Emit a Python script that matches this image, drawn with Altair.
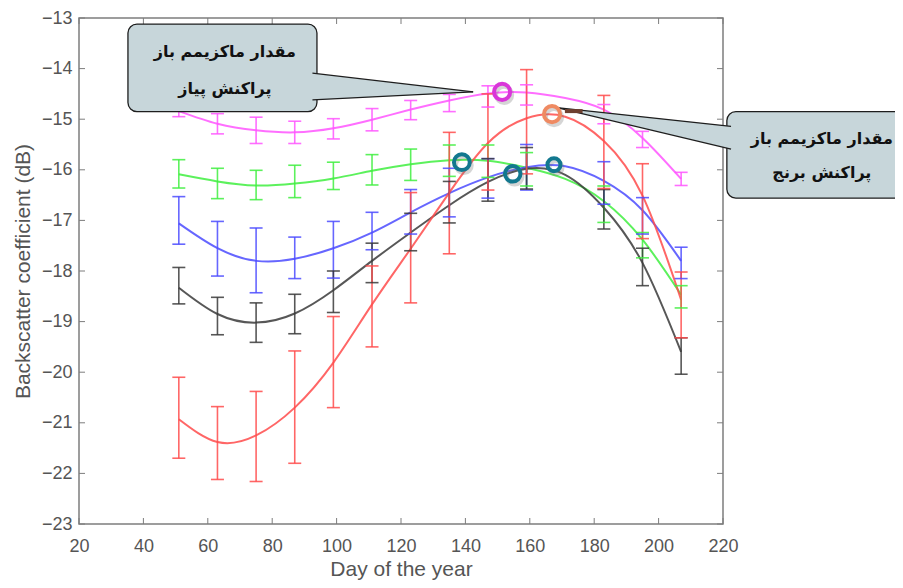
import altair as alt
import pandas as pd

# ---------------- data ----------------
days = [51, 63, 75, 87, 99, 111, 123, 135, 147, 159, 183, 195, 207]
fit_days = [51, 63, 75, 87, 99, 111, 123, 135, 147, 159, 171, 183, 195, 207]

series_names = ["magenta", "green", "blue", "black", "red"]
series_colors = ["#ff55ff", "#3fee3f", "#4b4bff", "#3a3a3a", "#ff4b4b"]

magenta_mean = [-14.78, -15.09, -15.22, -15.26, -15.19, -15.01, -14.82, -14.68, -14.55, -14.52, -14.90, -15.40, -16.18]
magenta_err = [0.17, 0.20, 0.26, 0.22, 0.20, 0.22, 0.19, 0.17, 0.21, 0.20, 0.19, 0.16, 0.13]
green_mean = [-16.08, -16.27, -16.30, -16.23, -16.12, -16.00, -15.90, -15.82, -15.83, -15.99, -16.68, -17.49, -18.51]
green_err = [0.28, 0.30, 0.29, 0.32, 0.27, 0.30, 0.31, 0.31, 0.32, 0.33, 0.36, 0.25, 0.22]
blue_mean = [-17.00, -17.56, -17.79, -17.74, -17.58, -17.21, -16.83, -16.45, -16.17, -15.95, -16.26, -16.91, -17.84]
blue_err = [0.47, 0.54, 0.64, 0.41, 0.56, 0.37, 0.44, 0.48, 0.39, 0.45, 0.42, 0.36, 0.31]
black_mean = [-18.29, -18.89, -19.02, -18.85, -18.41, -17.84, -17.23, -16.64, -16.20, -15.97, -16.78, -17.92, -19.68]
black_err = [0.36, 0.37, 0.39, 0.39, 0.41, 0.39, 0.37, 0.41, 0.42, 0.41, 0.39, 0.37, 0.36]
red_mean = [-20.90, -21.40, -21.27, -20.69, -19.80, -18.70, -17.54, -16.46, -15.45, -15.05, -15.45, -16.62, -18.67]
red_err = [0.80, 0.72, 0.89, 1.11, 0.90, 0.80, 1.09, 1.20, 0.95, 1.03, 0.92, 0.74, 0.65]

magenta_fit = [-14.84, -15.09, -15.22, -15.26, -15.18, -15.01, -14.81, -14.63, -14.49, -14.47, -14.58, -14.81, -15.37, -16.18]
green_fit = [-16.09, -16.23, -16.31, -16.27, -16.17, -16.02, -15.89, -15.81, -15.82, -15.96, -16.18, -16.62, -17.38, -18.47]
blue_fit = [-17.06, -17.55, -17.80, -17.76, -17.55, -17.24, -16.84, -16.46, -16.15, -15.95, -15.93, -16.22, -16.80, -17.80]
black_fit = [-18.33, -18.85, -19.02, -18.84, -18.38, -17.80, -17.24, -16.70, -16.24, -15.98, -16.10, -16.75, -17.84, -19.60]
red_fit = [-20.93, -21.38, -21.25, -20.70, -19.81, -18.66, -17.56, -16.45, -15.47, -14.98, -14.95, -15.43, -16.51, -18.57]

x_ticks = [20, 40, 60, 80, 100, 120, 140, 160, 180, 200, 220]
y_ticks = [-23, -22, -21, -20, -19, -18, -17, -16, -15, -14, -13]

# annotation markers (ring circles at maxima)
ring_day = [151.4, 166.9, 138.9, 154.7, 167.5]
ring_val = [-14.46, -14.90, -15.85, -16.08, -15.90]
ring_color = ["#d936d9", "#ef8a62", "#12788f", "#12788f", "#12788f"]
ring_size = [260, 260, 250, 240, 170]

# callout boxes
box_x = [35.2, 221.2]
box_x2 = [93.9, 300.0]
box_y = [-13.12, -14.85]
box_y2 = [-14.85, -16.56]
box_text = ["مقدار ماکزیمم باز", "پراکنش پیاز", "مقدار ماکزیمم باز", "پراکنش برنج"]
text_day = [65.3, 65.3, 250.7, 250.7]
text_val = [-13.67, -14.40, -15.40, -16.07]

# callout pointers (base and tip)
w1_day = [92.5, 142.4]
w1_top = [-14.09, -14.46]
w1_bot = [-14.62, -14.46]
w2_day = [168.4, 222.5]
w2_top = [-14.77, -15.14]
w2_bot = [-14.77, -15.59]
brown_day = [170.9, 176.4]
brown_val = [-14.84, -14.84]

# ---------------- tables ----------------
means = [magenta_mean, green_mean, blue_mean, black_mean, red_mean]
errs = [magenta_err, green_err, blue_err, black_err, red_err]
fits = [magenta_fit, green_fit, blue_fit, black_fit, red_fit]

rows, caps, fit_rows = [], [], []
for name, m, e, f in zip(series_names, means, errs, fits):
    for d, mv, ev in zip(days, m, e):
        rows.append({"series": name, "day": d, "low": mv - ev, "high": mv + ev})
        caps.append({"series": name, "day": d, "value": mv - ev})
        caps.append({"series": name, "day": d, "value": mv + ev})
    for d, fv in zip(fit_days, f):
        fit_rows.append({"series": name, "day": d, "value": fv})

bars_df = pd.DataFrame(rows)
caps_df = pd.DataFrame(caps)
fit_df = pd.DataFrame(fit_rows)

W, H = 644, 506
frame_color = "#7d7d7d"
label_color = "#555555"

xscale = alt.Scale(domain=[20, 220], nice=False, zero=False)
yscale = alt.Scale(domain=[-23, -13], nice=False, zero=False)
cscale = alt.Scale(domain=series_names, range=series_colors)

x_axis = alt.Axis(values=x_ticks, title="Day of the year", ticks=False, domain=False,
                  grid=False, labelPadding=13, labelFontSize=18, labelColor=label_color,
                  labelFlush=False, labelOverlap=False,
                  titleFontSize=21, titleColor=label_color, titleFontWeight="normal",
                  titleY=51, titleBaseline="alphabetic")
y_axis = alt.Axis(values=y_ticks, title="Backscatter coefficient (dB)", ticks=False,
                  domain=False, grid=False, labelPadding=7, labelFontSize=18,
                  labelFlush=False, labelOverlap=False,
                  labelColor=label_color, titleFontSize=21, titleColor=label_color,
                  titleFontWeight="normal", titleAngle=270, titleX=-56, titleY=253,
                  titleAlign="center", titleBaseline="middle")


def X(f):
    return alt.X(f, type="quantitative", scale=xscale, axis=x_axis)


def Y(f):
    return alt.Y(f, type="quantitative", scale=yscale, axis=y_axis)


color_enc = alt.Color("series:N", scale=cscale, legend=None)

main_fit = alt.Chart(fit_df).mark_line(interpolate="natural", strokeWidth=2, opacity=0.85).encode(
    x=X("day"), y=Y("value"), color=color_enc, detail="series:N")

err_rules = alt.Chart(bars_df).mark_rule(strokeWidth=1.6, opacity=0.85).encode(
    x=X("day"), y=Y("low"), y2="high", color=color_enc)
err_caps = alt.Chart(caps_df).mark_tick(orient="horizontal", size=13, thickness=1.6, opacity=0.85).encode(
    x=X("day"), y=Y("value"), color=color_enc)

xt_df = pd.DataFrame({"d": x_ticks})
yt_df = pd.DataFrame({"v": y_ticks})
tick_b = alt.Chart(xt_df).mark_rule(color=frame_color, strokeWidth=1).encode(
    x=X("d"), y=alt.value(H), y2=alt.value(H - 6))
tick_t = alt.Chart(xt_df).mark_rule(color=frame_color, strokeWidth=1).encode(
    x=X("d"), y=alt.value(0), y2=alt.value(6))
tick_l = alt.Chart(yt_df).mark_rule(color=frame_color, strokeWidth=1).encode(
    y=Y("v"), x=alt.value(0), x2=alt.value(6))
tick_r = alt.Chart(yt_df).mark_rule(color=frame_color, strokeWidth=1).encode(
    y=Y("v"), x=alt.value(W), x2=alt.value(W - 6))

box_df = pd.DataFrame({"x": box_x, "x2": box_x2, "y": box_y, "y2": box_y2})
boxes = alt.Chart(box_df).mark_rect(fill="#c7d6da", stroke="#1e1e1e", strokeWidth=1.3,
                                    cornerRadius=9).encode(
    x=X("x"), x2="x2", y=Y("y"), y2="y2")

w1_df = pd.DataFrame({"d": w1_day, "t": w1_top, "b": w1_bot})
w2_df = pd.DataFrame({"d": w2_day, "t": w2_top, "b": w2_bot})
wedge1 = alt.Chart(w1_df).mark_area(fill="#c7d6da", opacity=1).encode(x=X("d"), y=Y("t"), y2="b")
wedge2 = alt.Chart(w2_df).mark_area(fill="#c7d6da", opacity=1).encode(x=X("d"), y=Y("t"), y2="b")
w1_top_l = alt.Chart(w1_df).mark_line(color="#1e1e1e", strokeWidth=1.3).encode(x=X("d"), y=Y("t"))
w1_bot_l = alt.Chart(w1_df).mark_line(color="#1e1e1e", strokeWidth=1.3).encode(x=X("d"), y=Y("b"))
w2_top_l = alt.Chart(w2_df).mark_line(color="#1e1e1e", strokeWidth=1.3).encode(x=X("d"), y=Y("t"))
w2_bot_l = alt.Chart(w2_df).mark_line(color="#1e1e1e", strokeWidth=1.3).encode(x=X("d"), y=Y("b"))
brown_df = pd.DataFrame({"d": brown_day, "v": brown_val})
brown = alt.Chart(brown_df).mark_line(color="#6e4030", strokeWidth=4).encode(x=X("d"), y=Y("v"))

txt_df = pd.DataFrame({"d": text_day, "v": text_val, "t": box_text})
texts = alt.Chart(txt_df).mark_text(font="DejaVu Sans", fontWeight="bold", fontSize=16,
                                    color="#111111", align="center", baseline="middle").encode(
    x=X("d"), y=Y("v"), text="t:N")

ring_df = pd.DataFrame({"d": ring_day, "v": ring_val, "c": ring_color, "s": ring_size})
ring_shadow = alt.Chart(ring_df).mark_point(shape="circle", filled=False, strokeWidth=4,
                                            color="#777777", opacity=0.3, xOffset=2, yOffset=3).encode(
    x=X("d"), y=Y("v"), size=alt.Size("s:Q", scale=None, legend=None))
rings = alt.Chart(ring_df).mark_point(shape="circle", filled=False, strokeWidth=4, opacity=1).encode(
    x=X("d"), y=Y("v"), color=alt.Color("c:N", scale=None, legend=None),
    size=alt.Size("s:Q", scale=None, legend=None))

chart = alt.layer(
    main_fit, err_rules, err_caps,
    tick_b, tick_t, tick_l, tick_r,
    boxes, wedge1, wedge2, w1_top_l, w1_bot_l, w2_top_l, w2_bot_l, brown,
    texts, ring_shadow, rings,
).properties(
    width=W, height=H,
    autosize=alt.AutoSizeParams(type="none"),
    padding={"left": 71, "top": 10, "right": 172, "bottom": 56},
).configure(font="Liberation Sans").configure_view(stroke=frame_color, strokeWidth=1.5)

chart.save("out.html", embed_options={"renderer": "svg", "actions": False})
